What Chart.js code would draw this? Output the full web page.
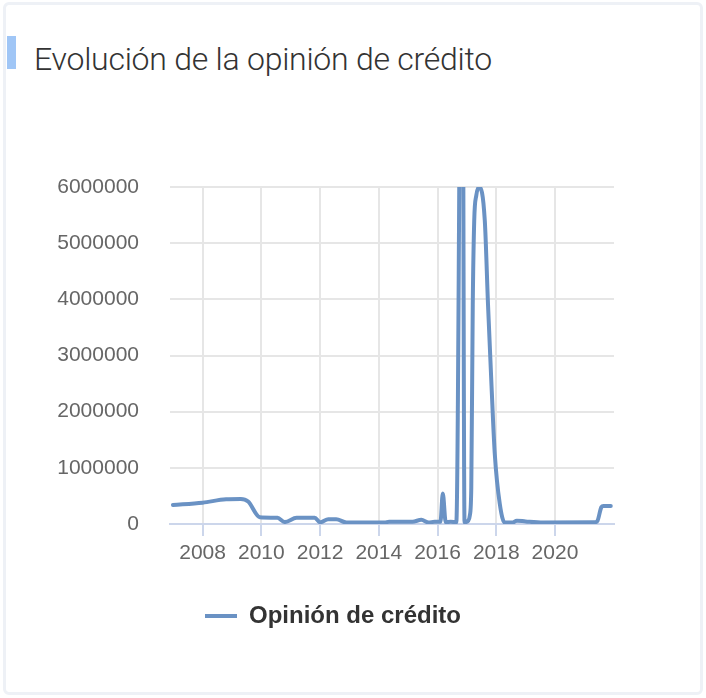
<!DOCTYPE html>
<html>
<head>
<meta charset="utf-8">
<script src="https://cdn.jsdelivr.net/npm/chart.js@4.4.0/dist/chart.umd.min.js"></script>
<style>
  html, body { margin: 0; padding: 0; background: #fff; }
  body { width: 706px; height: 698px; position: relative; overflow: hidden; }
  .card { position: absolute; left: 3px; top: 2px; width: 694px; height: 687px; border: 3px solid #eef1f6; border-radius: 6px; }
  .marca { position: absolute; left: 7px; top: 36px; width: 9px; height: 33px; background: #a0c6f6; }
  .titulo { position: absolute; left: 34px; top: 39px; font-family: Roboto, sans-serif; font-weight: 300; font-size: 32px; line-height: 40px; letter-spacing: -0.25px; color: #333; white-space: nowrap; }
  #grafico { position: absolute; left: 0; top: 0; }
</style>
</head>
<body>
<div class="card"></div>
<div class="marca"></div>
<div class="titulo">Evolución de la opinión de crédito</div>
<canvas id="grafico" width="706" height="698"></canvas>
<script>
// fechas en años decimales
const anios = [
  2006.99, 2008.0, 2008.8, 2009.3, 2009.55, 2009.95, 2010.55, 2010.8, 2011.2, 2011.82,
  2012.0, 2012.28, 2012.55, 2012.9, 2014.2, 2014.35, 2015.15, 2015.45, 2015.7, 2015.9,
  2016.1, 2016.18, 2016.28, 2016.45, 2016.64, 2016.84, 2016.92, 2017.05, 2017.1, 2017.15,
  2017.2, 2017.25, 2017.32, 2017.42, 2017.61, 2017.72, 2017.84, 2017.95, 2018.12, 2018.29,
  2018.55, 2018.7, 2019.0, 2019.6, 2021.35, 2021.45, 2021.58, 2021.65, 2021.9
];
const opinionCredito = [
  340000, 380000, 440000, 445000, 400000, 120000, 110000, 35000, 110000, 110000,
  30000, 85000, 85000, 25000, 25000, 40000, 40000, 75000, 25000, 40000,
  40000, 545000, 30000, 40000, 30000, 12000000, 30000, 60000, 150000, 650000,
  3900000, 5400000, 5850000, 6000000, 5400000, 3900000, 2450000, 1250000, 360000, 25000,
  25000, 60000, 45000, 25000, 30000, 60000, 300000, 320000, 320000
];
const ticksAnios = [2008, 2010, 2012, 2014, 2016, 2018, 2020];
const serie = "Opinión de crédito";
const colorLinea = "#6a92c4";

const ctx = document.getElementById("grafico").getContext("2d");
const fuente = "'Liberation Sans', Arial, sans-serif";

// la leyenda va algo desplazada a la derecha del centro
const moverLeyenda = {
  id: "moverLeyenda",
  afterLayout(chart) {
    chart.legend.left += 26;
    chart.legend.right += 26;
  }
};

new Chart(ctx, {
  type: "line",
  data: {
    datasets: [{
      label: serie,
      data: anios.map((x, i) => ({ x: x, y: opinionCredito[i] })),
      borderColor: colorLinea,
      backgroundColor: colorLinea,
      borderWidth: 4,
      borderCapStyle: "round",
      borderJoinStyle: "round",
      cubicInterpolationMode: "monotone",
      pointRadius: 0,
      fill: false
    }]
  },
  options: {
    responsive: false,
    devicePixelRatio: 1,
    animation: false,
    layout: { padding: { left: 0, right: 92, top: 187, bottom: 60 } },
    plugins: {
      tooltip: { enabled: false },
      legend: {
        position: "bottom",
        labels: {
          boxWidth: 32,
          boxHeight: 4,
          padding: 10,
          color: "#333",
          font: { family: fuente, size: 24, weight: "bold" },
          generateLabels: () => [{
            text: serie, fillStyle: colorLinea, strokeStyle: colorLinea,
            lineWidth: 0, hidden: false, datasetIndex: 0, fontColor: "#333"
          }]
        }
      }
    },
    scales: {
      x: {
        type: "linear",
        min: 2006.89,
        max: 2022.01,
        afterBuildTicks: s => { s.ticks = ticksAnios.map(v => ({ value: v })); },
        afterFit: s => { s.height = 70; },
        grid: { color: "#e6e6e6", lineWidth: 2, tickColor: "#ccd6eb", tickLength: 12 },
        border: { color: "#ccd6eb", width: 2 },
        ticks: { color: "#666", padding: 5, maxRotation: 0, font: { family: fuente, size: 21 }, callback: v => String(v) }
      },
      y: {
        min: 0,
        max: 6000000,
        afterFit: s => { s.width = 170; },
        grid: {
          color: c => (c.tick && c.tick.value === 0 ? "rgba(0,0,0,0)" : "#e6e6e6"),
          lineWidth: 2,
          drawTicks: false
        },
        border: { display: false },
        ticks: { stepSize: 1000000, color: "#666", padding: 31, font: { family: fuente, size: 21 }, callback: v => String(v) }
      }
    }
  },
  plugins: [moverLeyenda]
});
</script>
</body>
</html>
